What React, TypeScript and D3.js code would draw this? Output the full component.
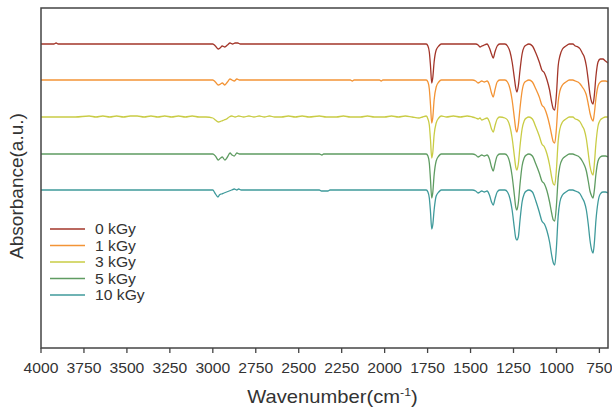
import * as d3 from "d3";

// FTIR spectra, stacked. Values are dips (a.u. x 0.01) below each trace's baseline.
const doseLabels = ["0 kGy", "1 kGy", "3 kGy", "5 kGy", "10 kGy"];
const doseColors = ["#a3362a", "#f39436", "#c9cc45", "#5f9c62", "#3f9a9b"];
const stackOffsets = [304, 268, 231, 194, 158];

const xTicks = [4000, 3750, 3500, 3250, 3000, 2750, 2500, 2250, 2000, 1750, 1500, 1250, 1000, 750];

// high wavenumber region, [wavenumber, dip]
const highRegion0: [number, number][] = [
  [4000, 0], [3925, 0], [3912, -1], [3900, 0], [3040, 0], [3000, 0], [2985, 2], [2968, 5], [2958, 4],
  [2945, 2], [2930, 3], [2915, 1], [2900, -1], [2885, 0], [2870, -1], [2855, -1], [2840, 0], [1800, 0],
];
const highRegion1: [number, number][] = [
  [4000, 0], [3040, 0], [3000, 0], [2985, 2], [2968, 5], [2955, 4], [2945, 3], [2930, 5], [2915, 2],
  [2900, -1], [2888, 0], [2875, 1], [2860, -1], [2845, 0], [2200, 0], [2188, 1], [2178, 0], [2030, 0],
  [2020, 1], [2010, 0], [1800, 0],
];
const highRegion3: [number, number][] = [
  [4000, 0], [3900, 0], [3800, 0], [3720, -1], [3680, 0], [3640, -1], [3600, 0], [3560, -1], [3520, 0],
  [3480, -1], [3440, -1], [3400, 0], [3360, -1], [3320, 0], [3280, -1], [3240, 0], [3200, -1], [3160, 0],
  [3120, -1], [3080, 0], [3040, 0], [3000, 1], [2985, 3], [2968, 5], [2950, 4], [2935, 3], [2920, 2],
  [2905, 0], [2890, -1], [2870, 0], [2850, -1], [2820, 0], [2790, -1], [2760, 0], [2730, -1], [2700, 0],
  [2670, -1], [2640, 0], [2600, 0], [2560, -1], [2520, 0], [2480, -1], [2440, 0], [2380, -1], [2340, 0],
  [2280, 0], [2240, -1], [2200, 0], [2140, 0], [2100, -1], [2060, 0], [2000, 0], [1960, -1], [1920, 0],
  [1880, -1], [1840, 0], [1800, 1],
];
const highRegion5: [number, number][] = [
  [4000, 0], [3040, 0], [3000, 0], [2985, 2], [2968, 6], [2955, 4], [2945, 3], [2930, 6], [2915, 3],
  [2900, -1], [2888, 1], [2875, 2], [2860, -1], [2845, 0], [2380, 0], [2365, 1], [2355, 0], [1800, 0],
];
const highRegion10: [number, number][] = [
  [4000, 0], [3040, 0], [3000, 0], [2988, 3], [2970, 7], [2962, 5], [2950, 4], [2935, 3], [2920, 2],
  [2905, 1], [2890, 0], [2875, -1], [2860, 0], [2850, -1], [2835, 0], [2380, 0], [2368, 1], [2330, 1],
  [2318, 0], [1800, 0],
];

// fingerprint region, shared wavenumbers
const fingerprintWn = [
  1780, 1758, 1748, 1740, 1733, 1726, 1720, 1712, 1700, 1685,
  1670, 1640, 1600, 1560, 1520, 1490, 1470, 1456, 1445, 1435,
  1420, 1404, 1390, 1378, 1368, 1358, 1345, 1330, 1300, 1285,
  1270, 1258, 1245, 1237, 1230, 1222, 1212, 1200, 1188, 1175,
  1160, 1140, 1120, 1100, 1085, 1070, 1055, 1040, 1028, 1018,
  1010, 1000, 990, 980, 965, 945, 925, 905, 890, 875,
  862, 850, 838, 826, 815, 805, 795, 787, 780, 770,
  758, 745, 730, 715, 700,
];
const fingerprint0 = [
  0, 0, 2, 8, 22, 39, 34, 18, 6, 2,
  0, 0, 0, 0, 0, 0, 0, 1, 3, 2,
  1, 0, 4, 10, 14, 8, 2, 0, 0, 2,
  8, 18, 34, 44, 48, 42, 26, 10, 3, 1,
  0, 2, 9, 18, 26, 29, 36, 46, 58, 65,
  66, 50, 22, 12, 5, 2, 0, 0, 2, 3,
  5, 9, 13, 22, 36, 50, 58, 60, 52, 32,
  18, 15, 15, 17, 19,
];
const fingerprint1 = [
  0, 0, 2, 9, 25, 43, 38, 20, 7, 2,
  0, 0, 0, 0, 0, 0, 1, 3, 2, 1,
  2, 1, 5, 13, 17, 10, 2, 0, 0, 2,
  9, 20, 38, 49, 52, 45, 28, 11, 3, 1,
  0, 2, 9, 17, 25, 28, 35, 45, 55, 62,
  63, 48, 22, 11, 5, 2, 0, 0, 1, 2,
  4, 7, 10, 15, 24, 33, 39, 41, 34, 18,
  6, 2, 1, 1, 2,
];
const fingerprint3 = [
  0, -1, 2, 8, 23, 41, 36, 18, 6, 1,
  -1, 0, -1, 0, -1, 0, 1, 2, 1, 3,
  2, 1, 5, 12, 15, 9, 2, 0, 1, 3,
  10, 21, 39, 50, 53, 47, 29, 12, 4, 1,
  0, 2, 10, 19, 27, 30, 37, 48, 60, 67,
  68, 52, 24, 12, 5, 2, 0, 0, 2, 3,
  5, 9, 13, 22, 36, 49, 56, 58, 48, 26,
  9, 3, 1, 0, 0,
];
const fingerprint5 = [
  0, 0, 2, 9, 26, 44, 39, 21, 7, 2,
  0, 0, 0, 0, 0, 0, 1, 3, 2, 1,
  2, 1, 5, 13, 17, 10, 2, 0, 0, 2,
  10, 22, 41, 53, 56, 49, 30, 12, 4, 1,
  0, 2, 10, 19, 27, 30, 37, 48, 59, 66,
  67, 51, 24, 12, 5, 2, 0, 0, 1, 2,
  4, 7, 11, 17, 27, 37, 42, 44, 37, 20,
  7, 3, 2, 2, 3,
];
const fingerprint10 = [
  0, 0, 2, 8, 22, 39, 35, 20, 6, 2,
  0, 0, 0, 0, 0, 0, 1, 3, 2, 1,
  2, 1, 5, 12, 15, 9, 2, 0, 0, 2,
  9, 20, 38, 48, 50, 47, 30, 12, 4, 1,
  0, 2, 11, 22, 31, 34, 41, 52, 65, 73,
  75, 57, 26, 12, 5, 2, 0, 0, 1, 2,
  4, 8, 12, 20, 34, 50, 60, 63, 54, 30,
  12, 4, 2, 2, 3,
];

const highRegions = [highRegion0, highRegion1, highRegion3, highRegion5, highRegion10];
const fingerprints = [fingerprint0, fingerprint1, fingerprint3, fingerprint5, fingerprint10];

const W = 612;
const H = 410;
const margin = { left: 41, right: 4, top: 8, bottom: 62 };
const FONT = "'Liberation Sans', Arial, sans-serif";
const STRETCH = 1.12;

export default function App() {
  const x = d3.scaleLinear().domain([4000, 700]).range([margin.left, W - margin.right]);
  const y = d3.scaleLinear().domain([0, 340]).range([H - margin.bottom, margin.top]);

  const line = d3
    .line<[number, number]>()
    .x((d) => x(d[0]))
    .y((d) => y(d[1]))
    .curve(d3.curveMonotoneX);

  const spectra = doseLabels.map((_, i) => {
    const pts: [number, number][] = highRegions[i].map(([wn, dip]) => [wn, stackOffsets[i] - dip]);
    fingerprintWn.forEach((wn, j) => pts.push([wn, stackOffsets[i] - fingerprints[i][j]]));
    return pts;
  });

  const plotBottom = H - margin.bottom;
  const legendX = 50;
  const legendY = [229, 245.5, 262, 278.5, 295];

  return (
    <svg
      width={W}
      height={H}
      style={{ position: "absolute", left: 0, top: 0, background: "#fff" }}
      fontFamily={FONT}
    >
      <defs>
        <clipPath id="plot">
          <rect x={margin.left} y={margin.top} width={W - margin.left - margin.right} height={plotBottom - margin.top} />
        </clipPath>
      </defs>

      <g clipPath="url(#plot)">
        {spectra.map((pts, i) => (
          <path key={doseLabels[i]} d={line(pts) ?? ""} fill="none" stroke={doseColors[i]} strokeWidth={1.3} />
        ))}
      </g>

      <rect
        x={margin.left}
        y={margin.top}
        width={W - margin.left - margin.right}
        height={plotBottom - margin.top}
        fill="none"
        stroke="#444"
        strokeWidth={1.5}
      />

      {xTicks.map((t) => (
        <g key={t}>
          <line x1={x(t)} x2={x(t)} y1={plotBottom} y2={plotBottom + 5} stroke="#444" strokeWidth={1.3} />
          <text
            transform={`translate(${x(t)},${plotBottom + 25}) scale(${STRETCH},1)`}
            textAnchor="middle"
            fontSize={14}
            fill="#333"
          >
            {t}
          </text>
        </g>
      ))}

      <text
        transform={`translate(${(margin.left + W - margin.right) / 2 + 8},${H - 7}) scale(${STRETCH},1)`}
        textAnchor="middle"
        fontSize={18}
        fill="#333"
      >
        Wavenumber(cm
        <tspan dy={-7} fontSize={11}>-1</tspan>
        <tspan dy={7}>)</tspan>
      </text>

      <text transform={`translate(23,${(margin.top + plotBottom) / 2 + 8}) rotate(-90)`} textAnchor="middle" fontSize={19} fill="#333">
        Absorbance(a.u.)
      </text>

      {doseLabels.map((lab, i) => (
        <g key={lab}>
          <line x1={legendX} x2={legendX + 35} y1={legendY[i]} y2={legendY[i]} stroke={doseColors[i]} strokeWidth={1.5} />
          <text
            transform={`translate(${legendX + 45},${legendY[i] + 5}) scale(${STRETCH},1)`}
            fontSize={14}
            fill="#333"
          >
            {lab}
          </text>
        </g>
      ))}
    </svg>
  );
}
